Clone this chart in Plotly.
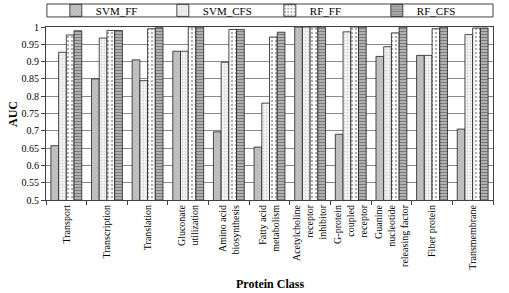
import plotly.graph_objects as go

categories = ["Transport", "Transcription", "Translation", "Gluconate<br>utilization",
              "Amino acid<br>biosynthesis", "Fatty acid<br>metabolism",
              "Acetylcholine<br>receptor<br>inhibitor", "G-protein<br>coupled<br>receptor",
              "Guanine<br>nucleotide<br>releasing factor", "Fiber protein", "Transmembrane"]
svm_ff  = [0.657, 0.850, 0.905, 0.930, 0.697, 0.653, 1.000, 0.690, 0.915, 0.918, 0.705]
svm_cfs = [0.927, 0.968, 0.845, 0.930, 0.898, 0.780, 1.000, 0.986, 0.943, 0.918, 0.978]
rf_ff   = [0.977, 0.990, 0.995, 1.000, 0.993, 0.971, 1.000, 1.000, 0.983, 0.995, 0.997]
rf_cfs  = [0.989, 0.990, 0.998, 1.000, 0.993, 0.985, 1.000, 1.000, 1.000, 1.000, 0.997]
y_ticks = [0.5, 0.55, 0.6, 0.65, 0.7, 0.75, 0.8, 0.85, 0.9, 0.95, 1]

FONT = "Liberation Serif"
styles = [
    ("SVM_FF", svm_ff, dict(shape="x", bgcolor="#c4c4c4", fgcolor="#8a8a8a", size=3, solidity=0.25)),
    ("SVM_CFS", svm_cfs, dict(shape=".", bgcolor="#f6f6f6", fgcolor="#b0b0b0", size=3, solidity=0.3)),
    ("RF_FF", rf_ff, dict(shape=".", bgcolor="#ffffff", fgcolor="#606060", size=4, solidity=0.3)),
    ("RF_CFS", rf_cfs, dict(shape="-", bgcolor="#c8c8c8", fgcolor="#303030", size=3, solidity=0.55)),
]

fig = go.Figure()
for name, vals, pat in styles:
    fig.add_trace(go.Bar(
        x=categories, y=vals, name=name,
        marker=dict(color=pat["bgcolor"], pattern=pat,
                    line=dict(color="#202020", width=0.8)),
    ))

fig.update_layout(
    width=509, height=293,
    margin=dict(l=46, r=16, t=27, b=93, autoexpand=False),
    paper_bgcolor="white", plot_bgcolor="white",
    barmode="group", bargap=0.24, bargroupgap=0,
    font=dict(family=FONT, size=10, color="black"),
    showlegend=True,
    legend=dict(orientation="h", x=0.022, y=1.096, xanchor="left", yanchor="middle",
                font=dict(family=FONT, size=11), entrywidth=62, entrywidthmode="pixels",
                bgcolor="rgba(0,0,0,0)", borderwidth=0, itemwidth=30,
                tracegroupgap=0),
    xaxis=dict(tickangle=-90, showline=True, linecolor="#404040", linewidth=1, mirror=True,
               ticks="outside", ticklen=4, tickcolor="#404040", tickson="boundaries",
               tickfont=dict(family=FONT, size=10), automargin=False),
    yaxis=dict(range=[0.5, 1.0], tickvals=y_ticks, ticktext=[f"{v:g}" for v in y_ticks],
               showgrid=True, gridcolor="#8a8a8a", gridwidth=1,
               showline=True, linecolor="#404040", linewidth=1, mirror=True,
               ticks="outside", ticklen=4, tickcolor="#404040",
               tickfont=dict(family=FONT, size=10), automargin=False, zeroline=False),
    shapes=[dict(type="rect", xref="paper", yref="paper", x0=0.002, x1=1.0, y0=1.058, y1=1.133,
                 line=dict(color="#404040", width=1), fillcolor="rgba(0,0,0,0)")],
    annotations=[
        dict(text="<b>AUC</b>", xref="paper", yref="paper", x=-0.075, y=0.5, showarrow=False,
             textangle=-90, font=dict(family=FONT, size=12), xanchor="center", yanchor="middle"),
        dict(text="<b>Protein Class</b>", xref="paper", yref="paper", x=0.5, y=-0.487,
             showarrow=False, font=dict(family=FONT, size=12), xanchor="center", yanchor="middle"),
    ],
)

fig.write_html("out.html")
